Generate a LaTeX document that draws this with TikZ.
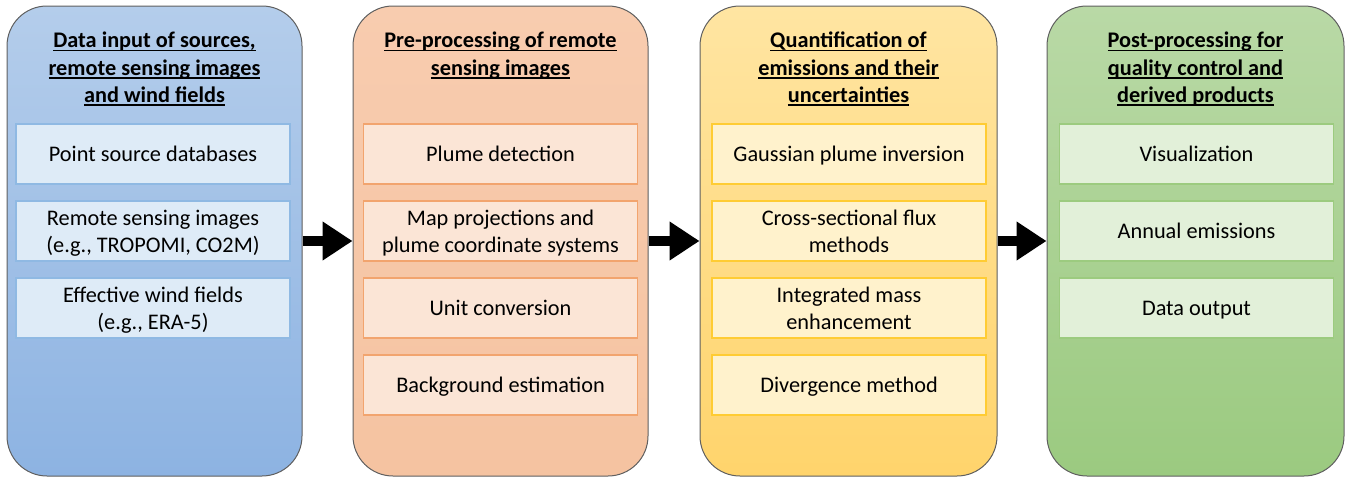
\documentclass[tikz,border=0pt]{standalone}
\usepackage{fontspec}
\setmainfont{Carlito}
\usetikzlibrary{arrows.meta}
\newcommand\mys{\rule[-5pt]{0pt}{25.6pt}}
\newcommand\myul[1]{\setbox0\hbox{#1}\rlap{\rule[-3.4pt]{\wd0}{1.4pt}}\box0\mys}
\definecolor{bluetop}{HTML}{B4CDEB}
\definecolor{bluebot}{HTML}{8DB3E2}
\definecolor{bluein}{HTML}{DEEBF7}
\definecolor{bluebd}{HTML}{8FB9E3}
\definecolor{ortop}{HTML}{F8CCAF}
\definecolor{orbot}{HTML}{F5C3A1}
\definecolor{orin}{HTML}{FBE5D6}
\definecolor{orbd}{HTML}{F2A46E}
\definecolor{yetop}{HTML}{FFE5A2}
\definecolor{yebot}{HTML}{FFD46C}
\definecolor{yein}{HTML}{FFF2CC}
\definecolor{yebd}{HTML}{FFCC33}
\definecolor{grtop}{HTML}{B9D9A6}
\definecolor{grbot}{HTML}{9BCA80}
\definecolor{grin}{HTML}{E2F0D9}
\definecolor{grbd}{HTML}{9CCB7F}
\definecolor{colbd}{HTML}{5F5F5F}
\begin{document}
\begin{tikzpicture}[x=1pt,y=-1pt,
  column/.style={draw=colbd, line width=1pt, rounded corners=40pt,
    minimum width=295pt, minimum height=470pt, inner sep=0pt},
  ttl/.style={anchor=north, align=center, inner sep=0pt,
    font=\fontsize{22.3}{27.2}\selectfont\bfseries},
  item/.style={line width=1.2pt, minimum width=274pt, minimum height=60pt,
    inner sep=0pt, align=center, font=\fontsize{22.3}{27.2}\selectfont},
  bigarrow/.style={line width=10pt, -{Triangle[length=30pt,width=37pt]}}
]
\useasboundingbox (0,0) rectangle (1351,479);

% columns
\node[column, top color=bluetop, bottom color=bluebot] (c1) at (154.5,241) {};
\node[column, top color=ortop, bottom color=orbot] (c2) at (500.5,241) {};
\node[column, top color=yetop, bottom color=yebot, minimum width=297pt] (c3) at (848.5,241) {};
\node[column, top color=grtop, bottom color=grbot, minimum width=297pt] (c4) at (1195.5,241) {};

% titles
\node[ttl] (t1) at (154.5,27.1) {\myul{Data input of sources,}\\\myul{remote sensing images}\\\myul{and wind fields}};
\node[ttl] (t2) at (500.5,27.1) {\myul{Pre-processing of remote}\\\myul{sensing images}};
\node[ttl] (t3) at (848.5,27.1) {\myul{Quantification of}\\\myul{emissions and their}\\\myul{uncertainties}};
\node[ttl] (t4) at (1195.5,27.1) {\myul{Post-processing for}\\\myul{quality control and}\\\myul{derived products}};

% column 1 items
\node[item, fill=bluein, draw=bluebd] (a1) at (153,154) {\mys Point source databases};
\node[item, fill=bluein, draw=bluebd] (a2) at (153,231) {\mys Remote sensing images\\\mys(e.g., TROPOMI, CO2M)};
\node[item, fill=bluein, draw=bluebd] (a3) at (153,308) {\mys Effective wind fields\\\mys(e.g., ERA-5)};

% column 2 items
\node[item, fill=orin, draw=orbd] (b1) at (500.5,154) {\mys Plume detection};
\node[item, fill=orin, draw=orbd] (b2) at (500.5,231) {\mys Map projections and\\\mys plume coordinate systems};
\node[item, fill=orin, draw=orbd] (b3) at (500.5,308) {\mys Unit conversion};
\node[item, fill=orin, draw=orbd] (b4) at (500.5,385) {\mys Background estimation};

% column 3 items
\node[item, fill=yein, draw=yebd] (d1) at (849,154) {\mys Gaussian plume inversion};
\node[item, fill=yein, draw=yebd] (d2) at (849,231) {\mys Cross-sectional flux\\\mys methods};
\node[item, fill=yein, draw=yebd] (d3) at (849,308) {\mys Integrated mass\\\mys enhancement};
\node[item, fill=yein, draw=yebd] (d4) at (849,385) {\mys Divergence method};

% column 4 items
\node[item, fill=grin, draw=grbd] (e1) at (1196.5,154) {\mys Visualization};
\node[item, fill=grin, draw=grbd] (e2) at (1196.5,231) {\mys Annual emissions};
\node[item, fill=grin, draw=grbd] (e3) at (1196.5,308) {\mys Data output};

% arrows
\draw[bigarrow] (c1.east) -- (c2.west);
\draw[bigarrow] (c2.east) -- (c3.west);
\draw[bigarrow] (c3.east) -- (c4.west);
\end{tikzpicture}
\end{document}
